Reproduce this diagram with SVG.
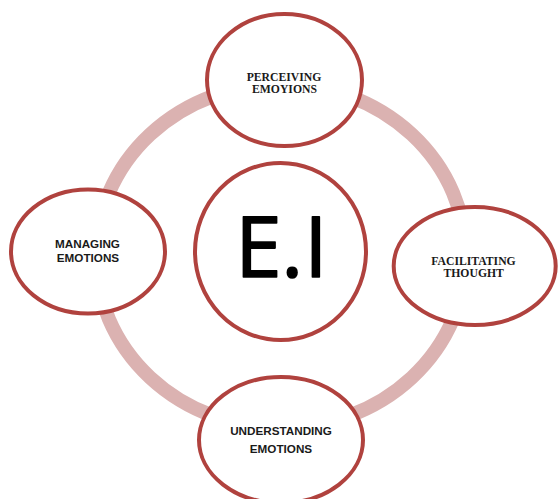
<svg xmlns="http://www.w3.org/2000/svg" width="558" height="499" viewBox="0 0 558 499">
  <style>
    .ring { fill: none; stroke: #dbb2b1; stroke-width: 14; }
    .node { fill: #ffffff; stroke: #b0423e; stroke-width: 4; }
    .serif { font-family: "Liberation Serif", "Times New Roman", serif; font-weight: bold; font-size: 11.7px; fill: #1a1a1a; text-anchor: middle; }
    .sans { font-family: "Liberation Sans", Arial, sans-serif; font-weight: bold; font-size: 11.7px; fill: #1a1a1a; text-anchor: middle; }
    .big { font-family: "Open Sans", "DejaVu Sans", sans-serif; font-size: 83.5px; fill: #000000; stroke: #000000; stroke-width: 1.6; stroke-linejoin: round; text-anchor: middle; }
  </style>
  <rect x="0" y="0" width="558" height="499" fill="#ffffff"/>

  <!-- cycle ring linking the four branches -->
  <g id="connectors">
    <ellipse class="ring" cx="281" cy="256" rx="185" ry="172"/>
  </g>

  <g id="node-perceiving">
    <ellipse class="node" cx="284.5" cy="80" rx="77.5" ry="66"/>
    <text class="serif" x="284" y="81">PERCEIVING</text>
    <text class="serif" x="284.5" y="92.7">EMOYIONS</text>
  </g>

  <g id="node-managing">
    <ellipse class="node" cx="88" cy="251.5" rx="77" ry="62"/>
    <text class="sans" x="87.5" y="248.3">MANAGING</text>
    <text class="sans" x="88" y="262">EMOTIONS</text>
  </g>

  <g id="node-facilitating">
    <ellipse class="node" cx="474.7" cy="266" rx="81" ry="59"/>
    <text class="serif" x="473.5" y="265">FACILITATING</text>
    <text class="serif" x="473.7" y="277.3">THOUGHT</text>
  </g>

  <g id="node-understanding">
    <ellipse class="node" cx="281" cy="440" rx="82" ry="63"/>
    <text class="sans" x="281" y="435.3">UNDERSTANDING</text>
    <text class="sans" x="281" y="453">EMOTIONS</text>
  </g>

  <g id="node-ei">
    <ellipse class="node" cx="280.5" cy="251.5" rx="85.5" ry="88.5"/>
    <text class="big" y="277"><tspan x="258.5">E</tspan><tspan x="292.3">.</tspan><tspan x="315.8">I</tspan></text>
  </g>
</svg>
